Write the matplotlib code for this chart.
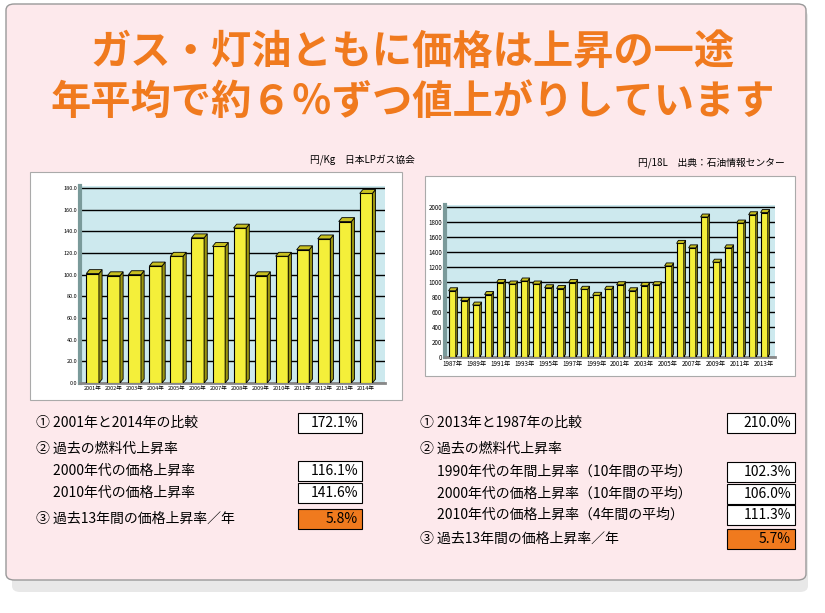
import matplotlib

matplotlib.use("Agg")

import matplotlib.pyplot as plt
from matplotlib.patches import FancyBboxPatch, Polygon, Rectangle
import numpy as np

plt.rcParams["font.family"] = "Noto Sans CJK JP"

LP_YEARS = [f"{y}年" for y in range(2001, 2015)]
LP_PRICE = [101, 99, 100, 108, 117, 134, 126, 143, 99, 117, 123, 133, 149, 175]

KERO_YEARS = [f"{y}年" for y in range(1987, 2014)]
KERO_PRICE = [880, 750, 690, 830, 990, 970, 1010, 970, 920, 910, 990, 900, 820, 900,
              960, 880, 950, 960, 1210, 1510, 1450, 1860, 1260, 1450, 1780, 1890, 1920]

LEFT_ROWS = [
    ("① 2001年と2014年の比較", "172.1%", False),
    ("② 過去の燃料代上昇率", None, False),
    ("　 2000年代の価格上昇率", "116.1%", False),
    ("　 2010年代の価格上昇率", "141.6%", False),
    ("③ 過去13年間の価格上昇率／年", "5.8%", True),
]
RIGHT_ROWS = [
    ("① 2013年と1987年の比較", "210.0%", False),
    ("② 過去の燃料代上昇率", None, False),
    ("　 1990年代の年間上昇率（10年間の平均）", "102.3%", False),
    ("　 2000年代の価格上昇率（10年間の平均）", "106.0%", False),
    ("　 2010年代の価格上昇率（4年間の平均）", "111.3%", False),
    ("③ 過去13年間の価格上昇率／年", "5.7%", True),
]

W, H = 825, 613
ORANGE = "#f07a1e"


def fx(px):
    return px / W


def fy(py):
    return 1 - py / H


def bars3d(ax, labels, values, ymax, step, fmt, label_every, fs):
    n = len(values)
    dx = 0.15
    dy = ymax * 0.02
    ax.set_zorder(5)
    ax.set_xlim(-0.6, n - 0.1)
    ax.set_ylim(0, ymax * 1.01)
    ax.set_facecolor("#cde9ee")
    for t in np.arange(0, ymax + 1, step):
        ax.plot([-0.6, n - 0.1], [t, t], color="black", lw=1.0, zorder=1)
    ax.bar(range(n), values, width=0.6, color="#f4ef3a", edgecolor="black", lw=0.8, zorder=3)
    for i, v in enumerate(values):
        x0, x1 = i - 0.3, i + 0.3
        ax.add_patch(Polygon([(x1, 0), (x1 + dx, dy), (x1 + dx, v + dy), (x1, v)],
                             closed=True, fc="#9a9410", ec="black", lw=0.6, zorder=3))
        ax.add_patch(Polygon([(x0, v), (x0 + dx, v + dy), (x1 + dx, v + dy), (x1, v)],
                             closed=True, fc="#c8c020", ec="black", lw=0.6, zorder=3))
    ax.set_yticks(np.arange(0, ymax + 1, step))
    ax.set_yticklabels([fmt.format(t) for t in np.arange(0, ymax + 1, step)], fontsize=fs)
    ax.set_xticks(range(0, n, label_every))
    ax.set_xticklabels(labels[::label_every], fontsize=fs)
    ax.tick_params(length=0, pad=2)
    for s in ax.spines.values():
        s.set_visible(False)
    ax.spines["left"].set_visible(True)
    ax.spines["left"].set_color("#7a9a9a")
    ax.spines["left"].set_linewidth(3)
    ax.spines["bottom"].set_visible(True)
    ax.spines["bottom"].set_color("#888888")
    ax.spines["bottom"].set_linewidth(2)


def draw_rows(fig, rows, x_text, box_x0, box_x1, ys):
    for (text, val, hl), y in zip(rows, ys):
        fig.text(fx(x_text), fy(y), text, fontsize=10, va="center", ha="left")
        if val is None:
            continue
        fig.patches.append(Rectangle((fx(box_x0), fy(y + 10)), fx(box_x1 - box_x0), 20 / H,
                                     transform=fig.transFigure, fc=ORANGE if hl else "white",
                                     ec="black", lw=0.8))
        fig.text(fx(box_x1 - 4), fy(y), val, fontsize=10, va="center", ha="right")


fig = plt.figure(figsize=(W / 100, H / 100), dpi=100)
fig.patches.append(FancyBboxPatch((fx(12), fy(592)), fx(796), (592 - 10) / H,
                                  boxstyle="round,pad=0,rounding_size=0.01",
                                  transform=fig.transFigure, fc="#e8e8e8", ec="none"))
fig.patches.append(FancyBboxPatch((fx(6), fy(580)), fx(800), (580 - 4) / H,
                                  boxstyle="round,pad=0,rounding_size=0.01",
                                  transform=fig.transFigure, fc="#fde9ec", ec="#999999", lw=1))

fig.text(0.5, fy(52), "ガス・灯油ともに価格は上昇の一途", fontsize=29, fontweight="bold",
         color=ORANGE, ha="center", va="center")
fig.text(0.5, fy(102), "年平均で約６％ずつ値上がりしています", fontsize=29, fontweight="bold",
         color=ORANGE, ha="center", va="center")

fig.text(fx(415), fy(160), "円/Kg　日本LPガス協会", fontsize=7, ha="right", va="center")
fig.text(fx(785), fy(163), "円/18L　出典：石油情報センター", fontsize=7, ha="right", va="center")

for x0, y0, x1, y1 in [(30, 172, 402, 400), (425, 176, 795, 376)]:
    fig.patches.append(Rectangle((fx(x0), fy(y1)), fx(x1 - x0), (y1 - y0) / H,
                                 transform=fig.transFigure, fc="white", ec="#aaaaaa", lw=0.8))

ax1 = fig.add_axes([fx(80), fy(383), fx(305), (383 - 186) / H])
bars3d(ax1, LP_YEARS, LP_PRICE, 180, 20, "{:.1f}", 1, 4)

ax2 = fig.add_axes([fx(445), fy(357), fx(330), (357 - 205) / H])
bars3d(ax2, KERO_YEARS, KERO_PRICE, 2000, 200, "{:.0f}", 2, 4.5)

draw_rows(fig, LEFT_ROWS, 36, 298, 362, [423, 449, 471, 493, 519])
draw_rows(fig, RIGHT_ROWS, 420, 727, 795, [423, 449, 472, 494, 515, 539])

fig.savefig("out.png", dpi=100, facecolor="white")
